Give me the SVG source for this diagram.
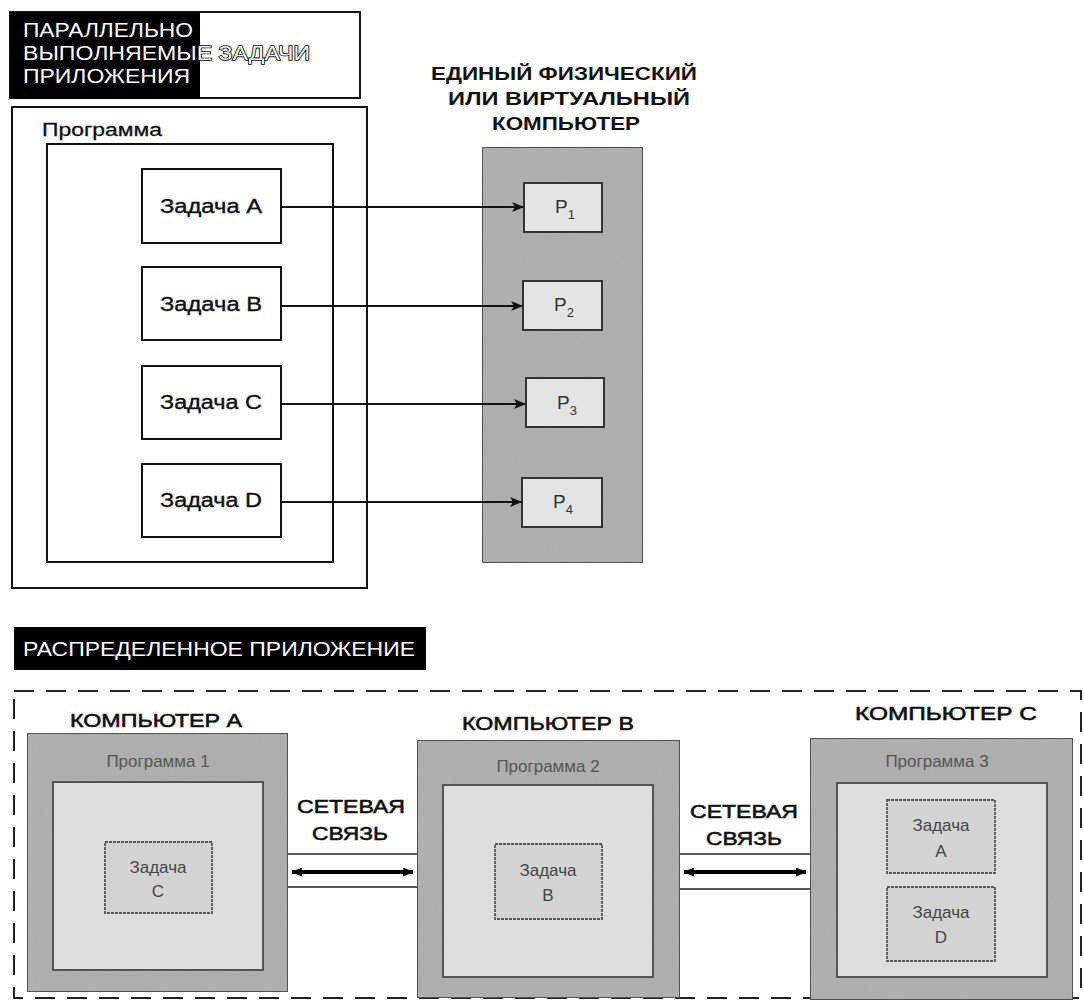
<svg xmlns="http://www.w3.org/2000/svg" width="1084" height="1005" viewBox="0 0 1084 1005">
<defs>
<marker id="arr" viewBox="0 0 12 10" refX="11" refY="5" markerWidth="12" markerHeight="10" markerUnits="userSpaceOnUse" orient="auto">
<path d="M0,0 L12,5 L0,10 L3,5 Z" fill="#111"/>
</marker>
<marker id="dbl" viewBox="0 0 12 10" refX="11" refY="5" markerWidth="12" markerHeight="9" markerUnits="userSpaceOnUse" orient="auto-start-reverse">
<path d="M0,0 L12,5 L0,10 Z" fill="#000"/>
</marker>
<filter id="grain" x="0" y="0" width="100%" height="100%">
<feTurbulence type="fractalNoise" baseFrequency="0.9" numOctaves="2" seed="3" result="n"/>
<feColorMatrix in="n" type="matrix" values="0 0 0 0 0  0 0 0 0 0  0 0 0 0 0  0 0 0 0.25 -0.05" result="dark"/>
<feComposite in="dark" in2="SourceGraphic" operator="in" result="d2"/>
<feMerge><feMergeNode in="SourceGraphic"/><feMergeNode in="d2"/></feMerge>
</filter>
</defs>
<style>
text{font-family:"Liberation Sans","Noto Sans",Arial,sans-serif;}
.box{fill:#fff;stroke:#111;stroke-width:2;}
.task{font-size:20px;fill:#111;stroke:#111;stroke-width:0.4;text-anchor:middle;}
.cpu{fill:#b5b5b5;stroke:#555;stroke-width:2;}
.pbox{fill:#e4e4e4;stroke:#333;stroke-width:2;}
.inner{fill:#dedede;stroke:#555;stroke-width:2;}
.sub{fill:#d4d4d4;stroke:#555;stroke-width:1.8;stroke-dasharray:3 1;}
.hdr{font-size:19px;font-weight:bold;fill:#111;text-anchor:middle;}
.lbl{font-size:19px;fill:#111;stroke:#111;stroke-width:0.6;text-anchor:middle;}
.prog{font-size:17px;fill:#555;text-anchor:middle;}
.st{font-size:17px;fill:#444;text-anchor:middle;}
.pt{font-size:19px;fill:#333;}
.ht{font-size:20px;fill:#fff;stroke:#000;stroke-width:1.6;paint-order:stroke;}
.conn{stroke:#111;stroke-width:2;fill:none;}
.thin{stroke:#222;stroke-width:1.5;fill:none;}
</style>

<g id="title-parallel">
<rect x="10" y="12" width="350" height="86" fill="#fff" stroke="#111" stroke-width="2"/>
<rect x="10" y="12" width="190" height="87" fill="#000"/>
<text class="ht" x="23" y="37" textLength="170" lengthAdjust="spacingAndGlyphs">ПАРАЛЛЕЛЬНО</text>
<text class="ht" x="23" y="60" textLength="287" lengthAdjust="spacingAndGlyphs">ВЫПОЛНЯЕМЫЕ ЗАДАЧИ</text>
<text class="ht" x="23" y="83" textLength="167" lengthAdjust="spacingAndGlyphs">ПРИЛОЖЕНИЯ</text>
</g>

<g id="program-outer">
<rect class="box" x="12" y="107" width="355" height="481"/>
<text x="42" y="136" font-size="18" fill="#111" stroke="#111" stroke-width="0.3" textLength="120" lengthAdjust="spacingAndGlyphs">Программа</text>
</g>
<g id="program-inner">
<rect class="box" x="47" y="144" width="286" height="418"/>
</g>

<g id="task-a"><rect class="box" x="142" y="169" width="139" height="74"/><text class="task" x="211" y="213" textLength="102" lengthAdjust="spacingAndGlyphs">Задача A</text></g>
<g id="task-b"><rect class="box" x="142" y="267" width="139" height="73"/><text class="task" x="211" y="311" textLength="102" lengthAdjust="spacingAndGlyphs">Задача B</text></g>
<g id="task-c"><rect class="box" x="142" y="366" width="139" height="73"/><text class="task" x="211" y="409" textLength="102" lengthAdjust="spacingAndGlyphs">Задача C</text></g>
<g id="task-d"><rect class="box" x="142" y="464" width="139" height="73"/><text class="task" x="211" y="507" textLength="102" lengthAdjust="spacingAndGlyphs">Задача D</text></g>

<g id="computer-title">
<text class="hdr" x="564" y="80" textLength="266" lengthAdjust="spacingAndGlyphs">ЕДИНЫЙ ФИЗИЧЕСКИЙ</text>
<text class="hdr" x="569" y="105" textLength="242" lengthAdjust="spacingAndGlyphs">ИЛИ ВИРТУАЛЬНЫЙ</text>
<text class="hdr" x="566" y="130" textLength="148" lengthAdjust="spacingAndGlyphs">КОМПЬЮТЕР</text>
</g>
<g id="computer">
<rect class="cpu" x="482" y="147" width="161" height="416" filter="url(#grain)"/>
</g>
<g id="p1"><rect class="pbox" x="524" y="183" width="78" height="49"/><text class="pt" x="555" y="213">P<tspan font-size="13" dy="6">1</tspan></text></g>
<g id="p2"><rect class="pbox" x="523" y="281" width="79" height="49"/><text class="pt" x="554" y="311">P<tspan font-size="13" dy="6">2</tspan></text></g>
<g id="p3"><rect class="pbox" x="526" y="378" width="78" height="49"/><text class="pt" x="557" y="409">P<tspan font-size="13" dy="6">3</tspan></text></g>
<g id="p4"><rect class="pbox" x="522" y="478" width="80" height="49"/><text class="pt" x="553" y="508">P<tspan font-size="13" dy="6">4</tspan></text></g>

<g id="title-distributed">
<rect x="14" y="627" width="412" height="43" fill="#000"/>
<text x="23" y="656" font-size="20" fill="#fff" textLength="392" lengthAdjust="spacingAndGlyphs">РАСПРЕДЕЛЕННОЕ ПРИЛОЖЕНИЕ</text>
</g>
<g id="distributed-frame">
<rect x="14" y="691" width="1067" height="307" fill="none" stroke="#222" stroke-width="2" stroke-dasharray="20 12"/>
</g>

<g id="computer-a">
<text class="lbl" x="156" y="727" textLength="172" lengthAdjust="spacingAndGlyphs">КОМПЬЮТЕР А</text>
<rect class="cpu" x="27" y="733" width="261" height="259" filter="url(#grain)"/>
<text class="prog" x="158" y="767">Программа 1</text>
<rect class="inner" x="53" y="782" width="210" height="188"/>
</g>
<g id="task-c2"><rect class="sub" x="105" y="842" width="107" height="71"/><text class="st" x="158" y="873">Задача</text><text class="st" x="158" y="897">C</text></g>

<g id="computer-b">
<text class="lbl" x="548" y="730" textLength="172" lengthAdjust="spacingAndGlyphs">КОМПЬЮТЕР В</text>
<rect class="cpu" x="417" y="740" width="263" height="258" filter="url(#grain)"/>
<text class="prog" x="548" y="772">Программа 2</text>
<rect class="inner" x="443" y="785" width="210" height="192"/>
</g>
<g id="task-b2"><rect class="sub" x="495" y="844" width="107" height="75"/><text class="st" x="548" y="876">Задача</text><text class="st" x="548" y="901">B</text></g>

<g id="computer-c">
<text class="lbl" x="946" y="720" textLength="182" lengthAdjust="spacingAndGlyphs">КОМПЬЮТЕР С</text>
<rect class="cpu" x="810" y="738" width="263" height="262" filter="url(#grain)"/>
<text class="prog" x="937" y="767">Программа 3</text>
<rect class="inner" x="837" y="783" width="210" height="194"/>
</g>
<g id="task-a2"><rect class="sub" x="887" y="800" width="108" height="73"/><text class="st" x="941" y="831">Задача</text><text class="st" x="941" y="857">A</text></g>
<g id="task-d2"><rect class="sub" x="887" y="887" width="108" height="74"/><text class="st" x="941" y="918">Задача</text><text class="st" x="941" y="943">D</text></g>

<g id="net-label-1">
<text class="lbl" x="351" y="813" textLength="108" lengthAdjust="spacingAndGlyphs">СЕТЕВАЯ</text>
<text class="lbl" x="350" y="840" textLength="76" lengthAdjust="spacingAndGlyphs">СВЯЗЬ</text>
</g>
<g id="net-label-2">
<text class="lbl" x="744" y="818" textLength="108" lengthAdjust="spacingAndGlyphs">СЕТЕВАЯ</text>
<text class="lbl" x="744" y="845" textLength="76" lengthAdjust="spacingAndGlyphs">СВЯЗЬ</text>
</g>

<g id="connectors">
<line class="conn" x1="281" y1="207" x2="523" y2="207" marker-end="url(#arr)"/>
<line class="conn" x1="281" y1="306" x2="522" y2="306" marker-end="url(#arr)"/>
<line class="conn" x1="281" y1="404" x2="525" y2="404" marker-end="url(#arr)"/>
<line class="conn" x1="281" y1="502" x2="521" y2="502" marker-end="url(#arr)"/>
<line class="thin" x1="288" y1="854" x2="417" y2="854"/>
<line class="thin" x1="288" y1="887" x2="417" y2="887"/>
<line x1="292" y1="872" x2="413" y2="872" stroke="#000" stroke-width="4" marker-start="url(#dbl)" marker-end="url(#dbl)"/>
<line class="thin" x1="680" y1="854" x2="810" y2="854"/>
<line class="thin" x1="680" y1="889" x2="810" y2="889"/>
<line x1="684" y1="872" x2="806" y2="872" stroke="#000" stroke-width="4" marker-start="url(#dbl)" marker-end="url(#dbl)"/>
</g>
</svg>
